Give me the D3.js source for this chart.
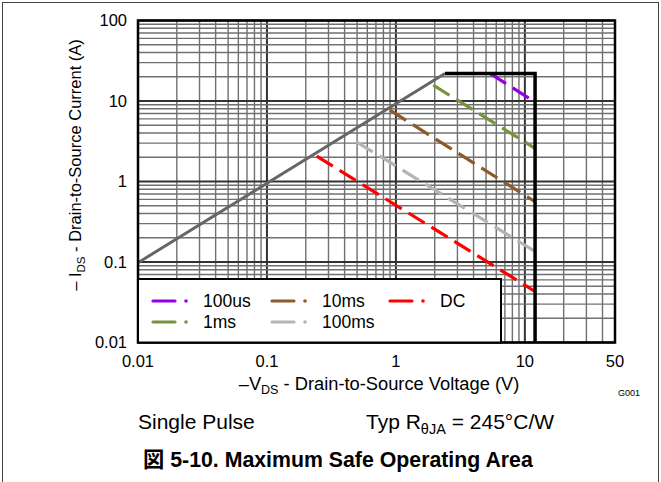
<!DOCTYPE html>
<html>
<head>
<meta charset="utf-8">
<script src="https://cdn.jsdelivr.net/npm/d3@7"></script>
<style>
  body { margin: 0; background: #fff; }
  text { font-family: "Liberation Sans", Arial, "Noto Sans CJK JP", sans-serif; fill: #000; }
</style>
</head>
<body>
<div id="chart"></div>
<script>
// pulse-width lines (each a straight segment on log-log axes)
const seriesNames = ["100us", "1ms", "10ms", "100ms", "DC"];
const seriesVStart = [5.36, 1.95, 0.9, 0.495, 0.243];
const seriesIStart = [22, 15.7, 7.68, 3.11, 2.07];
const seriesVEnd = [12, 12, 12, 12, 12];
const seriesIEnd = [9.7, 2.58, 0.56, 0.135, 0.043];

// R_DS(on) limit and package limit
const limitV = [0.01, 2.4];
const limitI = [0.098, 22];
const packageV = [2.4, 12, 12];
const packageI = [22, 22, 0.01];

const xTickValues = [0.01, 0.1, 1, 10, 50];
const yTickValues = [0.01, 0.1, 1, 10, 100];
const xTickLabels = ["0.01", "0.1", "1", "10", "50"];
const yTickLabels = ["0.01", "0.1", "1", "10", "100"];

const colors = ["#9400e0", "#77933c", "#8c5a2b", "#b4b4b4", "#ff0000"];

const svg = d3.select("#chart").append("svg")
    .attr("width", 661)
    .attr("height", 482);

// outer frame
svg.append("rect")
    .attr("x", 2.5).attr("y", 2.5)
    .attr("width", 656).attr("height", 500)
    .attr("fill", "none")
    .attr("stroke", "#444")
    .attr("stroke-width", 1);

const x = d3.scaleLog().domain([0.01, 50]).range([138, 615]);
const y = d3.scaleLog().domain([0.01, 100]).range([342.5, 20.5]);

const isMajor = v => Math.abs(Math.log10(v) - Math.round(Math.log10(v))) < 1e-9;

// grid
const grid = svg.append("g");
grid.selectAll("line.gx")
    .data(x.ticks())
    .join("line")
    .attr("class", "gx")
    .attr("x1", d => x(d)).attr("x2", d => x(d))
    .attr("y1", y(100)).attr("y2", y(0.01))
    .attr("stroke", d => isMajor(d) ? "#333" : "#707070")
    .attr("stroke-width", d => isMajor(d) ? 2 : 1.4);

grid.selectAll("line.gy")
    .data(y.ticks())
    .join("line")
    .attr("class", "gy")
    .attr("x1", x(0.01)).attr("x2", x(50))
    .attr("y1", d => y(d)).attr("y2", d => y(d))
    .attr("stroke", d => isMajor(d) ? "#333" : "#707070")
    .attr("stroke-width", d => isMajor(d) ? 2 : 1.4);

const line = d3.line().x(d => x(d[0])).y(d => y(d[1]));

// pulse lines
seriesNames.forEach((name, i) => {
    svg.append("path")
        .datum([[seriesVStart[i], seriesIStart[i]], [seriesVEnd[i], seriesIEnd[i]]])
        .attr("d", line)
        .attr("fill", "none")
        .attr("stroke", colors[i])
        .attr("stroke-width", 3.2)
        .attr("stroke-dasharray", "19,8");
});

// limit line
svg.append("path")
    .datum(limitV.map((v, i) => [v, limitI[i]]))
    .attr("d", line)
    .attr("fill", "none")
    .attr("stroke", "#666")
    .attr("stroke-width", 3);

// package limit
svg.append("path")
    .datum(packageV.map((v, i) => [v, packageI[i]]))
    .attr("d", line)
    .attr("fill", "none")
    .attr("stroke", "#000")
    .attr("stroke-width", 3.5);

// plot frame
svg.append("rect")
    .attr("x", x(0.01)).attr("y", y(100))
    .attr("width", x(50) - x(0.01))
    .attr("height", y(0.01) - y(100))
    .attr("fill", "none")
    .attr("stroke", "#000")
    .attr("stroke-width", 2.5);

// legend
const lg = svg.append("g");
lg.append("rect")
    .attr("x", x(0.01)).attr("y", 279)
    .attr("width", 501 - x(0.01))
    .attr("height", y(0.01) - 279)
    .attr("fill", "#fff")
    .attr("stroke", "#000")
    .attr("stroke-width", 2);

const legendCols = [153, 272, 390];
const legendRows = [301, 322];
seriesNames.forEach((name, i) => {
    const cx = legendCols[Math.floor(i / 2)];
    const cy = legendRows[i % 2];
    lg.append("line")
        .attr("x1", cx).attr("x2", cx + 22)
        .attr("y1", cy).attr("y2", cy)
        .attr("stroke", colors[i])
        .attr("stroke-width", 3.2)
        .attr("stroke-linecap", "round");
    lg.append("circle")
        .attr("cx", cx + 33).attr("cy", cy)
        .attr("r", 1.8)
        .attr("fill", colors[i]);
    lg.append("text")
        .attr("x", cx + 50).attr("y", cy)
        .attr("dy", "0.36em")
        .attr("font-size", 17.5)
        .text(name);
});

// tick labels
svg.selectAll("text.xt")
    .data(xTickValues)
    .join("text")
    .attr("class", "xt")
    .attr("x", d => x(d))
    .attr("y", 367)
    .attr("text-anchor", "middle")
    .attr("font-size", 16.5)
    .text((d, i) => xTickLabels[i]);

svg.selectAll("text.yt")
    .data(yTickValues)
    .join("text")
    .attr("class", "yt")
    .attr("x", 127)
    .attr("y", d => y(d))
    .attr("dy", "0.36em")
    .attr("text-anchor", "end")
    .attr("font-size", 16.5)
    .text((d, i) => yTickLabels[i]);

// axis titles
const xt = svg.append("text")
    .attr("x", 379).attr("y", 390)
    .attr("text-anchor", "middle")
    .attr("font-size", 18.3);
xt.append("tspan").text("\u2013V");
xt.append("tspan").attr("font-size", 12.5).attr("dy", 4).text("DS");
xt.append("tspan").attr("dy", -4).text(" - Drain-to-Source Voltage (V)");

const yt = svg.append("text")
    .attr("transform", "translate(81,165) rotate(-90)")
    .attr("text-anchor", "middle")
    .attr("font-size", 16.5);
yt.append("tspan").text("\u2013 I");
yt.append("tspan").attr("font-size", 11.5).attr("dy", 4).text("DS");
yt.append("tspan").attr("dy", -4).text(" - Drain-to-Source Current (A)");

svg.append("text")
    .attr("x", 640).attr("y", 396)
    .attr("text-anchor", "end")
    .attr("font-size", 9)
    .text("G001");

svg.append("text")
    .attr("x", 138).attr("y", 429)
    .attr("font-size", 21)
    .text("Single Pulse");

const rt = svg.append("text")
    .attr("x", 366).attr("y", 429)
    .attr("font-size", 21);
rt.append("tspan").text("Typ R");
rt.append("tspan").attr("font-size", 14.5).attr("dy", 5).text("\u03b8JA");
rt.append("tspan").attr("dy", -5).text(" = 245\u00b0C/W");

svg.append("text")
    .attr("x", 143).attr("y", 467)
    .attr("font-size", 21.3)
    .attr("font-weight", "bold")
    .text("\u56f3 5-10. Maximum Safe Operating Area");
</script>
</body>
</html>
